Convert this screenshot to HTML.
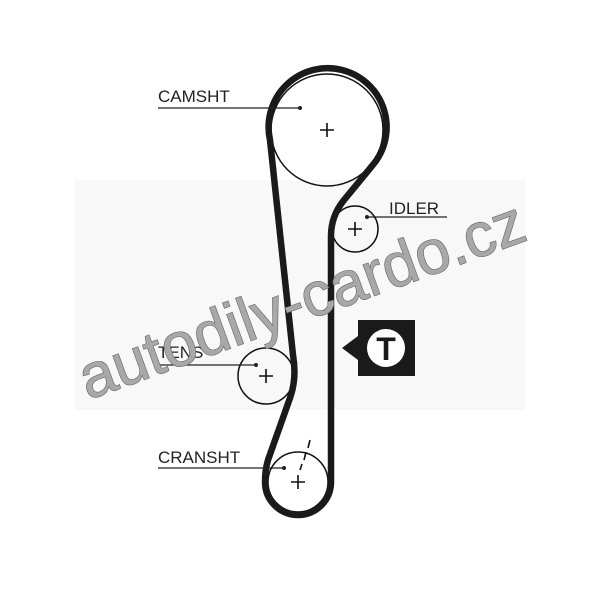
<!DOCTYPE html>
<html><head><meta charset="utf-8"><style>
html,body{margin:0;padding:0;background:#fff;width:600px;height:589px;overflow:hidden}
svg{display:block}
</style></head><body>
<svg width="600" height="589" viewBox="0 0 600 589" xmlns="http://www.w3.org/2000/svg" font-family="Liberation Sans, sans-serif">
<rect x="75" y="180" width="450" height="230" fill="#f8f8f8"/>
<g fill="none" stroke="#111" stroke-width="1.5">
<circle cx="327" cy="130" r="56"/>
<circle cx="355" cy="229" r="23"/>
<circle cx="266" cy="376" r="28"/>
<circle cx="298" cy="482" r="30"/>
</g>
<path d="M372,166 L344,200 Q331,216 331,236 L331,482 A33,33 0 0 1 265,482 Q265,470 268,460 L290,398 Q297,378 293,355 L270,140 A59,59 0 1 1 372,166 Z" fill="none" stroke="#1a1a1a" stroke-width="6.5" stroke-linejoin="round"/>
<g stroke="#111" stroke-width="1.6">
<path d="M320,130h14M327,123v14"/><path d="M348,229h14M355,222v14"/>
<path d="M259,376h14M266,369v14"/><path d="M291,482h14M298,475v14"/>
<path d="M310,440l-2,8M306,452l-2,8M302,464l-2,6"/>
</g>
<g stroke="#222" stroke-width="1.3">
<line x1="158" y1="108" x2="300" y2="108"/><line x1="368" y1="217" x2="447" y2="217"/>
<line x1="158" y1="365" x2="256" y2="365"/><line x1="158" y1="468" x2="284" y2="468"/>
</g>
<g fill="#222"><circle cx="300" cy="108" r="2"/><circle cx="367" cy="217" r="2"/><circle cx="256" cy="365" r="2"/><circle cx="284" cy="468" r="2"/></g>
<g font-size="17" fill="#222">
<text x="158" y="102">CAMSHT</text><text x="389" y="214">IDLER</text>
<text x="158" y="358">TENS</text><text x="158" y="463">CRANSHT</text>
</g>
<path d="M358,320h57v56h-57v-16l-16,-12l16,-12z" fill="#1a1a1a"/>
<circle cx="386" cy="348" r="19" fill="#fff"/>
<text x="386" y="360" font-size="32" font-weight="bold" text-anchor="middle" fill="#1a1a1a">T</text>
<text x="0" y="0" transform="translate(88,400) rotate(-20)" font-size="62" textLength="470" lengthAdjust="spacingAndGlyphs" fill="#a8a8a8" stroke="#666" stroke-width="1.2" paint-order="stroke">autodily-cardo.cz</text>
</svg>
</body></html>
